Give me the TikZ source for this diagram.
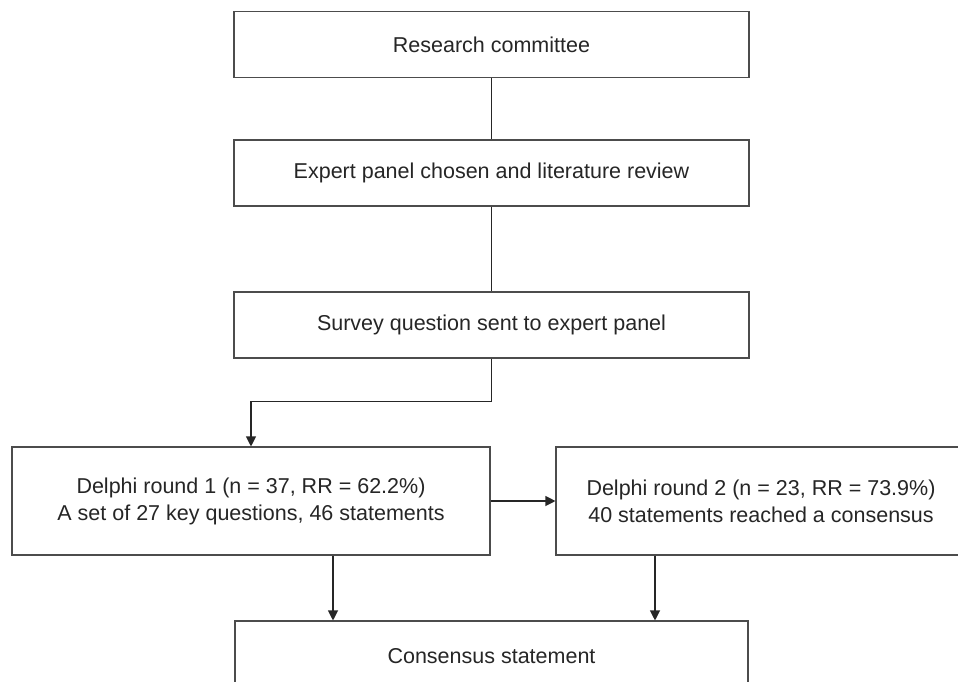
\documentclass[tikz,border=0pt]{standalone}
\usepackage{fontspec}
\setmainfont{Liberation Sans}
\usepackage{tikz}
\usetikzlibrary{arrows.meta,positioning,calc}

\begin{document}
\begin{tikzpicture}[
  x=1pt, y=-1pt,
  font=\fontsize{21.5}{27}\selectfont,
  every node/.style={align=center, text=black!85},
  box/.style={draw=black!70, line width=1.1pt, inner sep=0pt, fill=white},
  wide/.style={box, minimum width=515pt, minimum height=66pt},
  rnd/.style={box, minimum height=108pt},
  link/.style={draw=black!85, line width=1.1pt},
  flow/.style={link, -{Triangle[length=10pt,width=10pt]}},
]
\useasboundingbox (0,0) rectangle (958,681);

\node[wide] (comm)   at (491.5,44.5) {Research committee};
\node[wide] (panel)  at (491.5,173)  {Expert panel chosen and literature review};
\node[wide] (survey) at (491.5,325)  {Survey question sent to expert panel};

\node[rnd, minimum width=478pt] (round1) at (251,501)
  {Delphi round 1 (n = 37, RR = 62.2\%)\\A set of 27 key questions, 46 statements};
% right box runs off the page; its text stays where the reference has it
\node[rnd, minimum width=440pt] (round2) at (776,501)
  {Delphi round 2 (n = 23, RR = 73.9\%)\hspace*{30pt}\\
   40 statements reached a consensus\hspace*{30pt}};

\node[box, minimum width=513pt, minimum height=70pt] (final) at (491.5,656)
  {Consensus statement};

% ---- plain links between the top boxes ----
\foreach \a/\b in {comm/panel, panel/survey}
  \draw[link] (\a) -- (\b);

% ---- arrows ----
\draw[flow] (survey.south) -- ++(0,43) -| (round1.north);
\draw[flow] (round1) -- (round2);

\coordinate (dropL) at (333,0);
\coordinate (dropR) at (655,0);
\draw[flow] (round1.south -| dropL) -- (final.north -| dropL);
\draw[flow] (round2.south -| dropR) -- (final.north -| dropR);
\end{tikzpicture}
\end{document}
